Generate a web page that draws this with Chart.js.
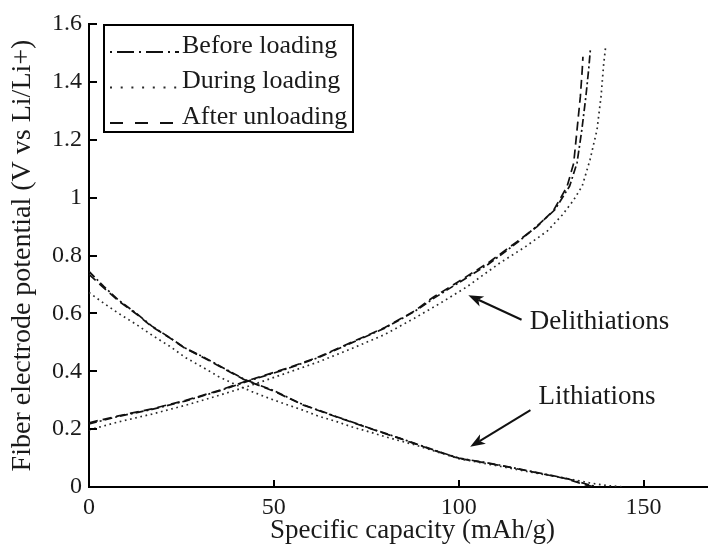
<!DOCTYPE html>
<html>
<head>
  <style>
    html, body { margin: 0; padding: 0; overflow: hidden; background: #fff; }
    .chart-container { width: 708px; height: 548px; overflow: hidden; }
    canvas { display: block; }
  </style>
</head>
<body>
  <div class="chart-container">
    <canvas id="myChart" width="740" height="548"></canvas>
  </div>

  <script src="https://cdn.jsdelivr.net/npm/chart.js"></script>
  <script>
    const serif = '"Liberation Serif", "Times New Roman", serif';

    // [specific capacity (mAh/g), potential (V)]
    const beforeLith = [[0,0.745],[4,0.693],[8,0.646],[13,0.598],[17,0.556],[22,0.515],[26,0.480],[31,0.449],[35,0.421],[42,0.372],[50,0.333],[58,0.284],[67,0.243],[76,0.203],[84,0.169],[93,0.129],[100,0.100],[106,0.087],[111,0.076],[120,0.053],[129,0.030],[134,0.012],[137,0.002]];
    const duringLith = [[0,0.672],[4,0.635],[8,0.600],[13,0.560],[17,0.525],[22,0.485],[26,0.448],[31,0.412],[35,0.382],[40,0.352],[44,0.330],[49,0.305],[53,0.287],[58,0.265],[62,0.245],[67,0.226],[71,0.208],[76,0.190],[80,0.174],[84,0.160],[88,0.146],[93,0.126],[100,0.098],[106,0.084],[111,0.072],[120,0.050],[129,0.030],[135,0.015],[140,0.005],[145,0.000]];
    const afterLith = [[0,0.735],[4,0.688],[8,0.643],[13,0.596],[17,0.554],[22,0.514],[26,0.479],[31,0.447],[35,0.419],[42,0.371],[50,0.331],[58,0.283],[67,0.242],[76,0.202],[84,0.168],[93,0.128],[100,0.099],[106,0.086],[111,0.075],[120,0.052],[129,0.029],[133,0.012],[136,0.002]];

    const beforeDelith = [[0,0.218],[8,0.244],[17,0.268],[26,0.297],[35,0.331],[43,0.366],[53,0.406],[62,0.447],[71,0.498],[80,0.549],[88,0.606],[93,0.650],[100,0.706],[108,0.770],[116,0.846],[121,0.900],[126,0.958],[130,1.040],[132,1.120],[133.3,1.234],[134.4,1.350],[135.2,1.450],[135.6,1.510]];
    const duringDelith = [[0,0.197],[8,0.225],[17,0.252],[26,0.282],[35,0.316],[44,0.352],[53,0.392],[62,0.432],[71,0.478],[80,0.527],[88,0.583],[95,0.635],[102,0.690],[111,0.773],[118,0.830],[124,0.885],[128,0.940],[131,0.990],[133.4,1.040],[135.5,1.130],[137.4,1.234],[138.5,1.350],[139.2,1.460],[139.7,1.517]];
    const afterDelith = [[0,0.222],[8,0.246],[17,0.270],[26,0.299],[35,0.333],[43,0.368],[53,0.408],[62,0.449],[71,0.500],[80,0.551],[88,0.608],[93,0.655],[100,0.710],[108,0.775],[115.8,0.848],[121.2,0.900],[125.7,0.957],[129.3,1.038],[131.1,1.119],[132.0,1.234],[132.9,1.349],[133.4,1.440],[133.6,1.487]];

    const seriesLabels = ['Before loading', 'During loading', 'After unloading'];

    // text + arrow annotations, in data units (tip, tail, text anchor)
    const notes = [
      { text: 'Delithiations', tip: [102.6, 0.663], tail: [117.0, 0.578], at: [119.2, 0.570] },
      { text: 'Lithiations', tip: [103.1, 0.139], tail: [119.4, 0.266], at: [121.6, 0.312] }
    ];

    // lithiation branch, a gap, then the delithiation branch
    function branches(lith, delith) {
      const pts = lith.map(p => ({ x: p[0], y: p[1] }));
      pts.push({ x: lith[lith.length - 1][0], y: null });
      return pts.concat(delith.map(p => ({ x: p[0], y: p[1] })));
    }

    const innerTicks = {
      id: 'innerTicks',
      afterDatasetsDraw(chart) {
        const { ctx, chartArea: a, scales: { x, y } } = chart;
        ctx.save();
        ctx.strokeStyle = '#000';
        ctx.lineWidth = 2;
        ctx.beginPath();
        x.ticks.forEach(t => {
          const px = Math.round(x.getPixelForValue(t.value));
          ctx.moveTo(px, a.bottom);
          ctx.lineTo(px, a.bottom - 7);
        });
        y.ticks.forEach(t => {
          const py = Math.round(y.getPixelForValue(t.value));
          ctx.moveTo(a.left, py);
          ctx.lineTo(a.left + 8, py);
        });
        ctx.stroke();
        ctx.restore();
      }
    };

    const boxLegend = {
      id: 'boxLegend',
      afterDraw(chart) {
        const ctx = chart.ctx;
        ctx.save();
        ctx.fillStyle = '#fff';
        ctx.fillRect(104, 25, 249, 107);
        ctx.strokeStyle = '#000';
        ctx.lineWidth = 2;
        ctx.strokeRect(104, 25, 249, 107);
        ctx.font = '26px ' + serif;
        ctx.textBaseline = 'middle';
        ctx.textAlign = 'left';
        chart.data.datasets.forEach((ds, i) => {
          const ty = 46 + i * 35.5;
          ctx.strokeStyle = ds.borderColor;
          ctx.lineWidth = 2;
          ctx.setLineDash(ds.legendDash);
          ctx.beginPath();
          ctx.moveTo(110, ty + 6);
          ctx.lineTo(179, ty + 6);
          ctx.stroke();
          ctx.setLineDash([]);
          ctx.fillStyle = '#1a1a1a';
          ctx.fillText(ds.label, 182, ty);
        });
        ctx.restore();
      }
    };

    const arrowNotes = {
      id: 'arrowNotes',
      afterDraw(chart) {
        const { ctx, scales: { x, y } } = chart;
        ctx.save();
        notes.forEach(n => {
          const tx = x.getPixelForValue(n.tip[0]), ty = y.getPixelForValue(n.tip[1]);
          const sx = x.getPixelForValue(n.tail[0]), sy = y.getPixelForValue(n.tail[1]);
          const ang = Math.atan2(ty - sy, tx - sx);
          const dx = Math.cos(ang), dy = Math.sin(ang);
          const len = 15, half = 5.5, notch = 4;
          ctx.strokeStyle = '#111';
          ctx.fillStyle = '#111';
          ctx.lineWidth = 2;
          ctx.beginPath();
          ctx.moveTo(sx, sy);
          ctx.lineTo(tx - (len - notch) * dx, ty - (len - notch) * dy);
          ctx.stroke();
          ctx.beginPath();
          ctx.moveTo(tx, ty);
          ctx.lineTo(tx - len * dx - half * dy, ty - len * dy + half * dx);
          ctx.lineTo(tx - (len - notch) * dx, ty - (len - notch) * dy);
          ctx.lineTo(tx - len * dx + half * dy, ty - len * dy - half * dx);
          ctx.closePath();
          ctx.fill();

          ctx.font = '27px ' + serif;
          ctx.textBaseline = 'middle';
          ctx.textAlign = 'left';
          ctx.fillStyle = '#1a1a1a';
          ctx.fillText(n.text, x.getPixelForValue(n.at[0]), y.getPixelForValue(n.at[1]));
        });
        ctx.restore();
      }
    };

    new Chart(document.getElementById('myChart'), {
      type: 'line',
      data: {
        datasets: [
          {
            label: seriesLabels[0],
            data: branches(beforeLith, beforeDelith),
            borderColor: '#111',
            borderWidth: 1.7,
            borderDash: [8, 3, 2, 3],
            legendDash: [2, 5, 17, 5]
          },
          {
            label: seriesLabels[1],
            data: branches(duringLith, duringDelith),
            borderColor: '#2a2a2a',
            borderWidth: 1.7,
            borderDash: [1.7, 3.6],
            legendDash: [2, 8.7]
          },
          {
            label: seriesLabels[2],
            data: branches(afterLith, afterDelith),
            borderColor: '#111',
            borderWidth: 1.7,
            borderDash: [9, 5],
            legendDash: [13, 12]
          }
        ]
      },
      options: {
        responsive: false,
        animation: false,
        events: [],
        spanGaps: false,
        layout: { padding: { left: 0, top: 24, right: 4, bottom: 0 } },
        elements: {
          point: { radius: 0 },
          line: { tension: 0 }
        },
        scales: {
          x: {
            type: 'linear',
            min: 0,
            max: 175,
            afterFit: s => { s.height = 61; },
            border: { display: true, color: '#000', width: 2 },
            grid: { drawOnChartArea: false, drawTicks: false },
            ticks: {
              stepSize: 50,
              includeBounds: false,
              maxRotation: 0,
              padding: 6,
              color: '#1a1a1a',
              font: { family: serif, size: 24 }
            },
            title: {
              display: true,
              text: 'Specific capacity (mAh/g)',
              color: '#1a1a1a',
              font: { family: serif, size: 27 },
              padding: { top: 0, bottom: 1 }
            }
          },
          y: {
            type: 'linear',
            min: 0,
            max: 1.6,
            afterFit: s => { s.width = 89; },
            border: { display: true, color: '#000', width: 2 },
            grid: { drawOnChartArea: false, drawTicks: false },
            ticks: {
              stepSize: 0.2,
              includeBounds: false,
              padding: 7,
              color: '#1a1a1a',
              font: { family: serif, size: 24 },
              callback: v => String(Math.round(v * 10) / 10)
            },
            title: {
              display: true,
              text: 'Fiber electrode potential (V vs Li/Li+)',
              color: '#1a1a1a',
              font: { family: serif, size: 28 },
              padding: { top: 6, bottom: 0 }
            }
          }
        },
        plugins: {
          legend: { display: false },
          tooltip: { enabled: false }
        }
      },
      plugins: [innerTicks, arrowNotes, boxLegend]
    });
  </script>
</body>
</html>
